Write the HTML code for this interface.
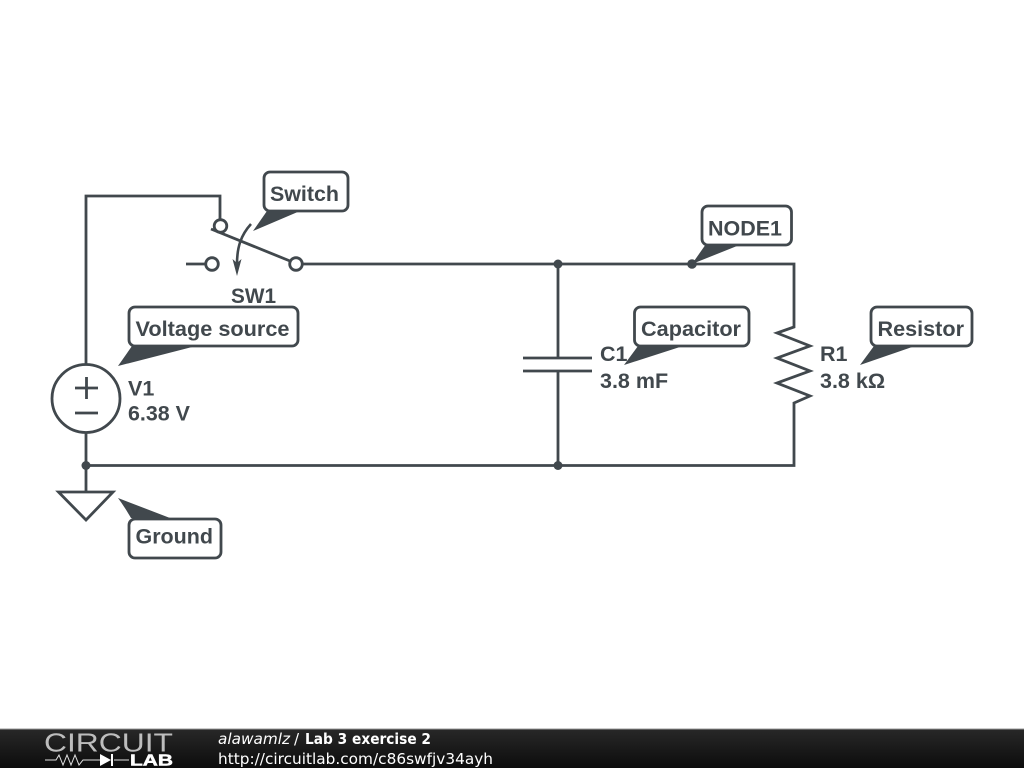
<!DOCTYPE html>
<html><head><meta charset="utf-8"><title>Lab 3 exercise 2</title>
<style>html,body{margin:0;padding:0;background:#fff}svg{display:block}</style></head>
<body>
<svg width="1024" height="768" viewBox="0 0 1024 768" xmlns="http://www.w3.org/2000/svg">
<defs><linearGradient id="g" x1="0" y1="0" x2="0" y2="1"><stop offset="0" stop-color="#282828"/><stop offset="1" stop-color="#0c0c0c"/></linearGradient></defs>
<rect width="1024" height="768" fill="#fff"/>
<g fill="none" stroke="#41484d" stroke-width="2.800" stroke-linejoin="miter">
<path d="M86 364V196H220V219"/>
<circle cx="220.500" cy="226" r="6.300" />
<path d="M211 229L290 261"/>
<circle cx="296" cy="264" r="6.300"/>
<circle cx="212" cy="264" r="6.300"/>
<path d="M186 264H206"/>
<path d="M302 264H794V327L777 333L810 346L777 358L810 371L777 383L810 396L794 403V465.500H86"/>
<path d="M558 264V358M558 371V465"/>
<path d="M523 358H592M523 371H592"/>
<circle cx="86" cy="398.500" r="34"/>
<path d="M75 388H98M86.500 377V399M75 413H98"/>
<path d="M86 433V492"/>
<path d="M58.500 492H113L86 520Z"/>
<path d="M251 224C241 235 237 247 237 264" stroke-width="2.600"/>
</g>
<path d="M232.500 259L237 263L241.500 259L237 276Z" fill="#41484d"/>
<g fill="#41484d">
<circle cx="86" cy="465.500" r="4.500"/><circle cx="558" cy="465.500" r="4.500"/><circle cx="558" cy="264" r="4.500"/><circle cx="692" cy="264" r="4.800"/>
<path d="M253 231L267 211H300Z"/>
<path d="M118 366L132 346H196Z"/>
<path d="M624 365L638 346H683Z"/>
<path d="M860 365L874 346H915Z"/>
<path d="M118 498Q124 506 131 518H170Z"/>
<path d="M692 264L706 244H742Z"/>
</g>
<g fill="#fff" stroke="#41484d" stroke-width="2.800">
<rect x="264" y="172" width="84" height="39" rx="6"/>
<rect x="129" y="307" width="169" height="39" rx="6"/>
<rect x="634.500" y="307" width="114.500" height="39" rx="6"/>
<rect x="871" y="307" width="101" height="39" rx="6"/>
<rect x="129" y="519" width="92" height="39" rx="6"/>
<rect x="702" y="206" width="89.500" height="39" rx="6"/>
</g>
<g fill="#41484d" font-family="'Liberation Sans',sans-serif" font-weight="bold" font-size="21.500">
<text x="270" y="201" textLength="69" lengthAdjust="spacingAndGlyphs">Switch</text>
<text x="708" y="235.500" textLength="74" lengthAdjust="spacingAndGlyphs">NODE1</text>
<text x="135.500" y="336" textLength="154" lengthAdjust="spacingAndGlyphs">Voltage source</text>
<text x="641" y="336" textLength="100" lengthAdjust="spacingAndGlyphs">Capacitor</text>
<text x="877.500" y="336" textLength="86.500" lengthAdjust="spacingAndGlyphs">Resistor</text>
<text x="135.500" y="543.500" textLength="77.500" lengthAdjust="spacingAndGlyphs">Ground</text>
<text x="231" y="303" textLength="45" lengthAdjust="spacingAndGlyphs">SW1</text>
<text x="128" y="395.500">V1</text>
<text x="128" y="420.500" textLength="62" lengthAdjust="spacingAndGlyphs">6.38 V</text>
<text x="600" y="361">C1</text>
<text x="600" y="388">3.8 mF</text>
<text x="820" y="361">R1</text>
<text x="820" y="388">3.8 kΩ</text>
</g>
<rect x="0" y="729" width="1024" height="39" fill="url(#g)"/>
<rect x="0" y="728.500" width="1024" height="1" fill="#999"/>
<text x="44" y="751.500" font-family="'Liberation Sans',sans-serif" font-size="25.500" fill="#bdbdbd" textLength="129" lengthAdjust="spacingAndGlyphs">CIRCUIT</text>
<path d="M45 760H56L59 755L63 765L67 755L71 765L75 755L79 765L83 760H100M114 760H129" fill="none" stroke="#e0e0e0" stroke-width="1"/>
<path d="M100 754L111 760L100 766Z" fill="#fff"/><path d="M112 754V766" stroke="#fff" stroke-width="2"/>
<text x="130" y="765.500" font-family="'Liberation Sans',sans-serif" font-size="15.500" font-weight="bold" fill="#fff" stroke="#fff" stroke-width="0.500" textLength="43" lengthAdjust="spacingAndGlyphs">LAB</text>
<g fill="#fff" font-family="'DejaVu Sans',sans-serif" font-size="15">
<text x="218" y="744" font-style="italic" textLength="72" lengthAdjust="spacingAndGlyphs">alawamlz</text>
<text x="294" y="744">/</text>
<text x="305" y="744" font-weight="bold" textLength="126" lengthAdjust="spacingAndGlyphs">Lab 3 exercise 2</text>
<text x="218" y="764" textLength="275" lengthAdjust="spacingAndGlyphs">http://circuitlab.com/c86swfjv34ayh</text>
</g>
</svg>
</body></html>
